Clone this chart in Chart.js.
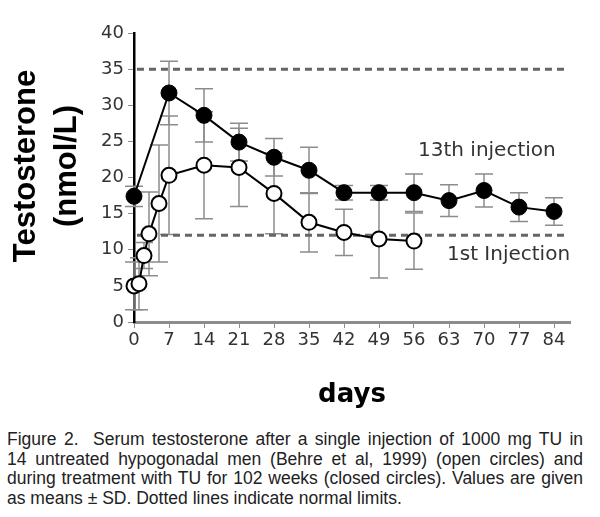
<!DOCTYPE html>
<html>
<head>
<meta charset="utf-8">
<script src="https://cdn.jsdelivr.net/npm/chart.js@4.4.1/dist/chart.umd.min.js"></script>
<style>
  body { margin: 0; background: #fff; }
  #wrap { position: absolute; left: 0; top: 0; width: 600px; height: 420px; }
  #caption {
    position: absolute; left: 7px; top: 430px; width: 576px;
    font-family: "Liberation Sans", Arial, sans-serif; font-size: 17.5px; line-height: 19.7px; color: #222;
  }
  #caption div { text-align: justify; text-align-last: justify; white-space: nowrap; }
  #caption div.last { text-align-last: left; }
</style>
</head>
<body>
<div id="wrap"><canvas id="chart"></canvas></div>
<div id="caption">
  <div>Figure 2.&nbsp; Serum testosterone after a single injection of 1000 mg TU in</div>
  <div>14 untreated hypogonadal men (Behre et al, 1999) (open circles) and</div>
  <div>during treatment with TU for 102 weeks (closed circles). Values are given</div>
  <div class="last">as means ± SD. Dotted lines indicate normal limits.</div>
</div>
<script>
// 13th injection (closed circles)
const closedDays = [0, 7, 14, 21, 28, 35, 42, 49, 56, 63, 70, 77, 84]
const closedMean = [17.4, 31.7, 28.6, 24.9, 22.8, 21.0, 17.9, 17.9, 17.9, 16.8, 18.2, 15.9, 15.3]
const closedSD = [1.4, 4.4, 3.7, 2.6, 2.6, 3.2, 1.0, 1.0, 2.6, 2.2, 2.3, 2.0, 1.9]

// 1st injection (open circles)
const openDays = [0, 1, 2, 3, 5, 7, 14, 21, 28, 35, 42, 49, 56]
const openMean = [5.0, 5.3, 9.2, 12.2, 16.4, 20.3, 21.7, 21.4, 17.8, 13.8, 12.4, 11.5, 11.2]
const openSD = [3.3, 3.6, 1.8, 5.8, 8.1, 8.2, 7.4, 5.4, 5.6, 4.1, 3.2, 5.4, 3.9]

const xTicks = [0, 7, 14, 21, 28, 35, 42, 49, 56, 63, 70, 77, 84]
const yTicks = [0, 5, 10, 15, 20, 25, 30, 35, 40]
const normalLimits = [12, 35]

const toPoints = (days, vals) => days.map((d, i) => ({ x: d, y: vals[i] }))

// ======= error bars (mean ± SD) =======
const errorBars = {
  id: 'errorBars',
  beforeDatasetsDraw(chart) {
    const { ctx, scales: { x, y } } = chart
    ctx.save()
    ctx.strokeStyle = '#8c8c8c'
    ctx.lineWidth = 1.5
    chart.data.datasets.forEach(ds => {
      ds.data.forEach((p, i) => {
        const px = x.getPixelForValue(p.x)
        const hi = y.getPixelForValue(p.y + ds.sd[i])
        const lo = y.getPixelForValue(p.y - ds.sd[i])
        ctx.beginPath()
        ctx.moveTo(px, hi); ctx.lineTo(px, lo)
        ctx.moveTo(px - 9, hi); ctx.lineTo(px + 9, hi)
        ctx.moveTo(px - 9, lo); ctx.lineTo(px + 9, lo)
        ctx.stroke()
      })
    })
    ctx.restore()
  }
}

// ======= dotted normal limits + labels =======
const extras = {
  id: 'extras',
  beforeDatasetsDraw(chart) {
    const { ctx, chartArea, scales: { x, y } } = chart
    ctx.save()
    ctx.strokeStyle = '#666'
    ctx.lineWidth = 3
    ctx.setLineDash([7, 5])
    normalLimits.forEach(v => {
      const py = y.getPixelForValue(v)
      ctx.beginPath()
      ctx.moveTo(x.getPixelForValue(0) + 3, py)
      ctx.lineTo(chartArea.right - 5, py)
      ctx.stroke()
    })
    ctx.restore()
  },
  afterDraw(chart) {
    const { ctx } = chart
    ctx.save()
    ctx.fillStyle = '#333'
    ctx.font = '20px "DejaVu Sans"'
    ctx.textBaseline = 'middle'
    ctx.fillText('13th injection', 418, 151)
    ctx.fillText('1st Injection', 447, 255)
    // y axis title, two lines
    ctx.fillStyle = '#000'
    ctx.font = 'bold 31px "Liberation Sans"'
    ctx.textAlign = 'center'
    ctx.translate(0, 166)
    ctx.rotate(-Math.PI / 2)
    ctx.fillText('Testosterone', 0, 26)
    ctx.fillText('(nmol/L)', 0, 67)
    ctx.restore()
  }
}

new Chart(document.getElementById('chart'), {
  type: 'line',
  data: {
    datasets: [
      {
        label: '13th injection',
        data: toPoints(closedDays, closedMean),
        sd: closedSD,
        borderColor: '#000',
        borderWidth: 2,
        pointRadius: 8,
        pointBackgroundColor: '#000',
        pointBorderColor: '#000',
        pointBorderWidth: 1,
        clip: false
      },
      {
        label: '1st injection',
        data: toPoints(openDays, openMean),
        sd: openSD,
        borderColor: '#000',
        borderWidth: 2,
        pointRadius: 7.5,
        pointBackgroundColor: '#fff',
        pointBorderColor: '#000',
        pointBorderWidth: 2,
        clip: false
      }
    ]
  },
  options: {
    responsive: true,
    maintainAspectRatio: false,
    animation: false,
    layout: { padding: { left: 0, top: 33, right: 30, bottom: 0 } },
    plugins: { legend: { display: false }, tooltip: { enabled: false } },
    scales: {
      x: {
        type: 'linear',
        min: 0,
        max: 87.2,
        afterFit: s => { s.height = 98 },
        afterBuildTicks: s => { s.ticks = xTicks.map(v => ({ value: v })) },
        border: { color: '#8c8c8c', width: 3 },
        grid: { drawOnChartArea: false, drawTicks: true, tickLength: 6, color: '#8c8c8c' },
        ticks: { color: '#333', font: { family: 'DejaVu Sans', size: 18 }, padding: 2, maxRotation: 0 },
        title: {
          display: true,
          text: 'days',
          color: '#000',
          font: { family: 'DejaVu Sans', size: 26, weight: 'bold', lineHeight: 1.2 },
          padding: { top: 0, bottom: 9 }
        }
      },
      y: {
        min: 0,
        max: 40,
        afterFit: s => { s.width = 134 },
        afterBuildTicks: s => { s.ticks = yTicks.map(v => ({ value: v })) },
        border: { color: '#000', width: 2.5 },
        grid: { drawOnChartArea: false, drawTicks: true, tickLength: 6, color: '#8c8c8c' },
        ticks: { color: '#333', font: { family: 'DejaVu Sans', size: 18 }, padding: 4 }
      }
    }
  },
  plugins: [errorBars, extras]
})
</script>
</body>
</html>
